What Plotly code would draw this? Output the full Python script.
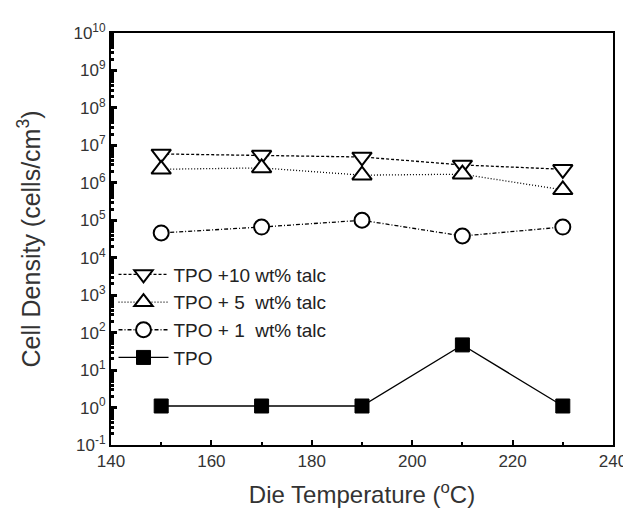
import plotly.graph_objects as go

temps = [150, 170, 190, 210, 230]
talc10 = [5.9e6, 5.5e6, 4.9e6, 3.0e6, 2.3e6]
talc5 = [2.3e6, 2.5e6, 1.6e6, 1.7e6, 6.5e5]
talc1 = [4.6e4, 6.6e4, 1.0e5, 3.8e4, 6.6e4]
tpo = [1.1, 1.1, 1.1, 47, 1.1]

names = ["TPO +10 wt% talc", "TPO + 5  wt% talc", "TPO + 1  wt% talc", "TPO"]
y_exps = list(range(-1, 11))
x_ticks = [140, 160, 180, 200, 220, 240]

fig = go.Figure()
fig.add_trace(go.Scatter(
    x=temps, y=talc10, name=names[0], mode="lines+markers",
    line=dict(color="black", width=1.3, dash="3px,2px"),
    marker=dict(symbol="triangle-down", size=17, color="white",
                line=dict(color="black", width=2))))
fig.add_trace(go.Scatter(
    x=temps, y=talc5, name=names[1], mode="lines+markers",
    line=dict(color="black", width=1.3, dash="1px,2px"),
    marker=dict(symbol="triangle-up", size=17, color="white",
                line=dict(color="black", width=2))))
fig.add_trace(go.Scatter(
    x=temps, y=talc1, name=names[2], mode="lines+markers",
    line=dict(color="black", width=1.3, dash="4px,2px,1px,2px"),
    marker=dict(symbol="circle", size=15, color="white",
                line=dict(color="black", width=2))))
fig.add_trace(go.Scatter(
    x=temps, y=tpo, name=names[3], mode="lines+markers",
    line=dict(color="black", width=1.3),
    marker=dict(symbol="square", size=14, color="black",
                line=dict(color="black", width=1))))

fig.update_layout(
    width=631, height=519,
    margin=dict(l=103, r=18, t=25, b=82),
    paper_bgcolor="white", plot_bgcolor="white",
    font=dict(family="Liberation Sans, Arial", color="#222222"),
    showlegend=True,
    legend=dict(x=0.005, y=0.46, xanchor="left", yanchor="top",
                bgcolor="rgba(0,0,0,0)", font=dict(size=19, color="#222222"),
                tracegroupgap=0, itemsizing="trace", itemwidth=50),
)
fig.update_xaxes(
    range=[140, 240], tickmode="array", tickvals=x_ticks,
    ticktext=[str(v) for v in x_ticks],
    ticks="inside", ticklen=5, tickwidth=1.5, tickcolor="black",
    minor=dict(ticks="inside", ticklen=3, tickcolor="black", dtick=10, tick0=150, showgrid=False),
    showline=True, linecolor="black", linewidth=2, mirror=True,
    showgrid=False, zeroline=False,
    tickfont=dict(size=17, color="#333333"),
    title=dict(text="Die Temperature (<sup>o</sup>C)", font=dict(size=24, color="#333333"), standoff=16),
)
fig.update_yaxes(
    type="log", range=[-1, 10], tickmode="array",
    tickvals=[10.0 ** e for e in y_exps],
    ticktext=[f"10<sup>{e}</sup>" for e in y_exps],
    ticks="inside", ticklen=6, tickwidth=2.5, tickcolor="black",
    minor=dict(ticks="inside", ticklen=3, tickcolor="black", dtick="D1", showgrid=False),
    showline=True, linecolor="black", linewidth=2, mirror=True,
    showgrid=False, zeroline=False,
    tickfont=dict(size=17, color="#333333"),
    title=dict(text="Cell Density (cells/cm<sup>3</sup>)", font=dict(size=25, color="#333333"), standoff=26),
)

fig.write_html("out.html")
